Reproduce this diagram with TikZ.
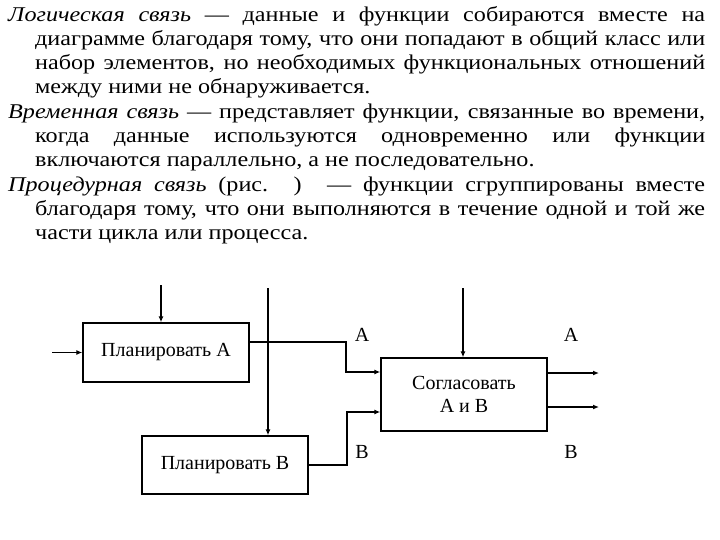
\documentclass[tikz,border=0pt]{standalone}
\usepackage{fontspec}
\setmainfont{Liberation Serif}
\newfontfamily\widefont[FakeStretch=1.15]{Liberation Serif}
\usetikzlibrary{arrows.meta}

% новый абзац с висячим отступом
\newcommand{\abz}{\par\hangindent=27pt\hangafter=1\relax}

\begin{document}
\begin{tikzpicture}[x=1pt, y=-1pt,
    >={Latex[length=6pt,width=5pt]},
    box/.style={draw, line width=1.3pt, minimum width=166pt, inner sep=0pt,
        font=\fontsize{20}{23}\selectfont, align=center},
    flow/.style={->, line width=1.3pt},
    lbl/.style={font=\fontsize{20}{24}\selectfont}]
    \useasboundingbox (0,0) rectangle (720,540);

    % Текст
    \node[anchor=north west, inner sep=0pt, text width=697pt, align=justify,
        font=\widefont\fontsize{21}{24}\selectfont] (txt) at (8,-4)
        {\tolerance=10000\emergencystretch=2em\parskip=1pt
        \abz\textit{Логическая связь} — данные и функции собираются вместе на\linebreak
        диаграмме благодаря тому, что они попадают в общий класс или\linebreak
        набор элементов, но необходимых функциональных отношений\linebreak
        между ними не обнаруживается.
        \abz\textit{Временная связь} — представляет функции, связанные во времени,\linebreak
        когда данные используются одновременно или функции\linebreak
        включаются параллельно, а не последовательно.
        \abz\textit{Процедурная связь} (рис. ) — функции сгруппированы вместе\linebreak
        благодаря тому, что они выполняются в течение одной и той же\linebreak
        части цикла или процесса.\par};

    % Блоки
    \node[box, minimum height=59pt] (planA) at (166,352.5) {Планировать А};
    \node[box, minimum height=58pt] (planB) at (225,465) {Планировать В};
    \node[box, minimum height=73pt] (agree) at (464,394.5) {Согласовать\\А и В};

    % Свободные концы
    \coordinate (inA) at (52,352.5);
    \coordinate (ctrlA) at (161,285);
    \coordinate (ctrlB) at (268,288);
    \coordinate (ctrlC) at (463,288);
    \coordinate (jA) at (346,372);
    \coordinate (jB) at (347,412);
    \coordinate (outA) at (599,373);
    \coordinate (outB) at (599,407);

    % Стрелки
    \draw[flow] (inA) -- (planA.west);
    \draw[flow] (ctrlA) -- (ctrlA |- planA.north);
    \draw[flow] (ctrlB) -- (ctrlB |- planB.north);
    \draw[flow] (ctrlC) -- (ctrlC |- agree.north);
    \draw[flow] ([yshift=10.5pt]planA.east) -| (jA) -- (jA -| agree.west);
    \draw[flow] (planB.east) -| (jB) -- (jB -| agree.west);
    \draw[flow] (agree.east |- outA) -- (outA);
    \draw[flow] (agree.east |- outB) -- (outB);

    % Подписи
    \node[lbl] (labA) at (362,335) {А};
    \node[lbl] (labB) at (362,452) {В};
    \node[lbl] (labA2) at (571,335) {А};
    \node[lbl] (labB2) at (571,452) {В};
\end{tikzpicture}
\end{document}
